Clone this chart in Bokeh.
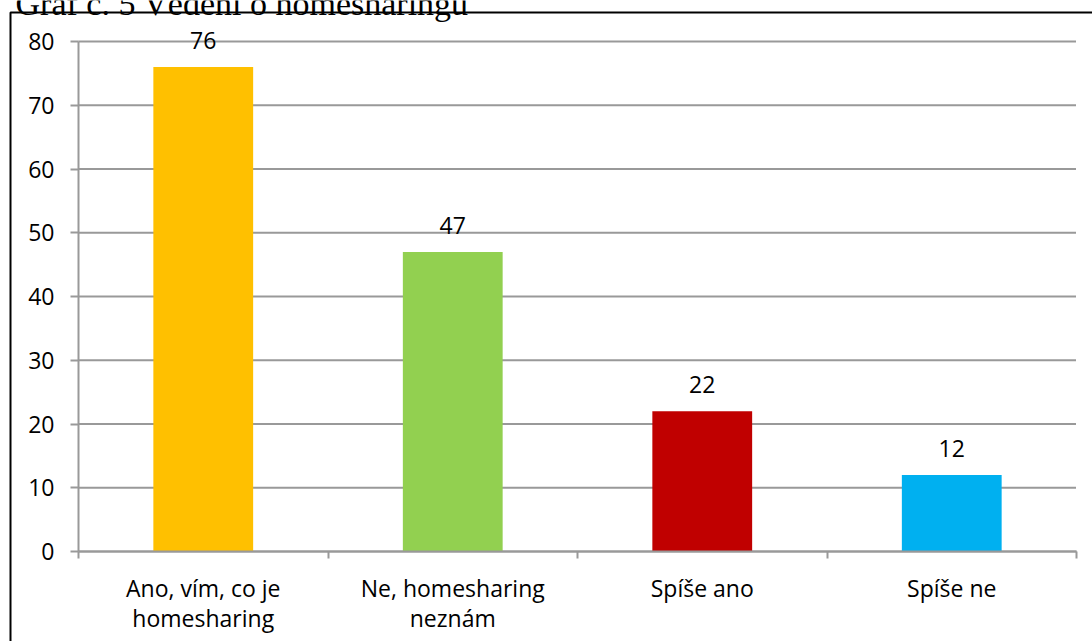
from bokeh.plotting import figure
from bokeh.models import ColumnDataSource, FixedTicker, LabelSet, Range1d
from bokeh.core.properties import value
from bokeh.embed import file_html
from bokeh.resources import INLINE

title_text = "Graf č. 5 Vědění o homesharingu"
categories = ["Ano, vím, co je\nhomesharing", "Ne, homesharing\nneznám", "Spíše ano", "Spíše ne"]
values = [76, 47, 22, 12]
colors = ["#FFC000", "#92D050", "#C00000", "#00B0F0"]
y_ticks = [0, 10, 20, 30, 40, 50, 60, 70, 80]

n = len(categories)
centers = [i + 0.5 for i in range(n)]
bounds = list(range(n + 1))
y_max = y_ticks[-1]

# canvas size and pixel box of the plotting area
W, H = 1092, 641
PL, PR, PT, PB = 78, 1076, 41, 551
sx = (PR - PL) / n
sy = (PB - PT) / y_max


def dx(px):
    return (px - PL) / sx


def dy(py):
    return (PB - py) / sy


FONT = "Open Sans"
GRAY = "#999999"

p = figure(width=W, height=H,
           x_range=Range1d(dx(0), dx(W)), y_range=Range1d(dy(H), dy(0)),
           output_backend="svg", toolbar_location=None,
           min_border=0, min_border_left=0, min_border_right=0,
           min_border_top=0, min_border_bottom=0)
p.outline_line_color = None
p.background_fill_color = "white"
p.border_fill_color = "white"
p.xgrid.visible = False
p.ygrid.visible = False

# outer chart border (only its left and top edges fall inside the picture)
p.line(x=[dx(10), dx(10), dx(W + 50)], y=[dy(H + 50), dy(12), dy(12)],
       line_color="black", line_width=2)

# title, mostly cut off at the top of the picture
p.text(x=[dx(15)], y=[dy(3)], text=[title_text],
       text_font=value("Liberation Serif"), text_font_size="34px",
       text_baseline="alphabetic", text_align="left", text_color="black")

# horizontal gridlines over the category area
p.segment(x0=[0] * len(y_ticks), x1=[n] * len(y_ticks), y0=y_ticks, y1=y_ticks,
          line_color=GRAY, line_width=2)

src = ColumnDataSource(dict(x=centers, top=values, color=colors,
                            label=[str(v) for v in values]))
p.vbar(x="x", top="top", bottom=0, width=0.4, fill_color="color", line_color=None, source=src)

# x axis: labels under bars, tick marks between categories
xa = p.xaxis[0]
xa.fixed_location = 0
xa.bounds = (0, n)
xa.ticker = FixedTicker(ticks=centers, minor_ticks=bounds)
xa.major_label_overrides = {c: lab for c, lab in zip(centers, categories)}
xa.major_tick_line_color = None
xa.minor_tick_in = 0
xa.minor_tick_out = 7
xa.minor_tick_line_color = GRAY
xa.minor_tick_line_width = 2
xa.axis_line_color = GRAY
xa.axis_line_width = 2
xa.major_label_text_font = FONT
xa.major_label_text_font_size = "23px"
xa.major_label_text_color = "black"
xa.major_label_text_line_height = 0.95
xa.major_label_standoff = 13

# y axis
ya = p.yaxis[0]
ya.fixed_location = 0
ya.bounds = (0, y_max)
ya.ticker = FixedTicker(ticks=y_ticks)
ya.minor_tick_line_color = None
ya.major_tick_in = 0
ya.major_tick_out = 8
ya.major_tick_line_color = GRAY
ya.major_tick_line_width = 2
ya.axis_line_color = GRAY
ya.axis_line_width = 2
ya.major_label_text_font = FONT
ya.major_label_text_font_size = "23px"
ya.major_label_text_color = "black"
ya.major_label_standoff = 16

labels = LabelSet(x="x", y="top", text="label", source=src, y_offset=18,
                  text_align="center", text_baseline="alphabetic",
                  text_font=value(FONT), text_font_size=value("23px"), text_color="black")
p.add_layout(labels)

# white strip right of the plotting area (hides a stray frame edge)
p.quad(left=[dx(PR - 0.5)], right=[dx(PR + 6)], top=[dy(PT - 6)], bottom=[dy(PB - 1.5)],
       fill_color="white", line_color=None, level="overlay")

open("out.html", "w").write(file_html(p, INLINE))
